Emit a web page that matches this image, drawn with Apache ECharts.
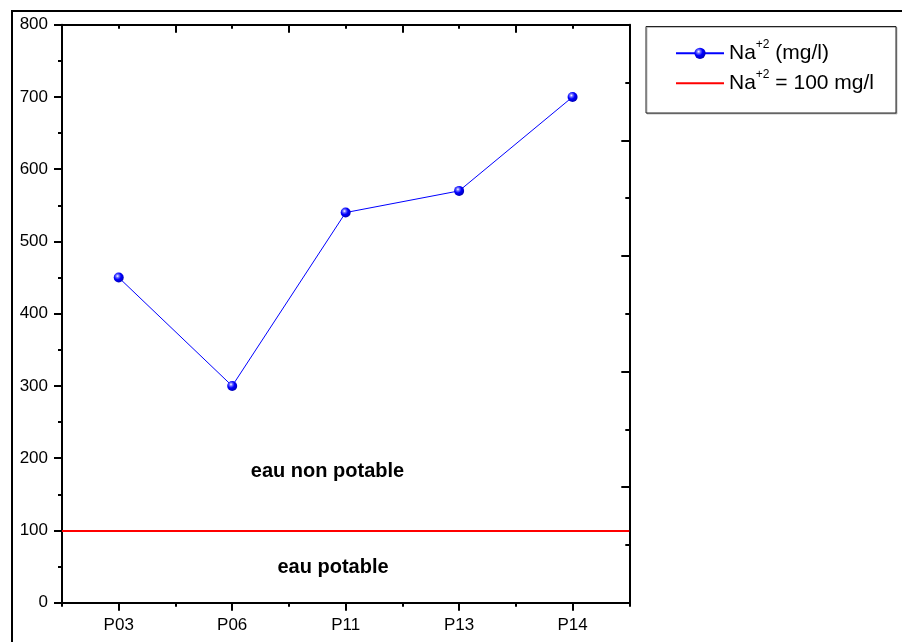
<!DOCTYPE html>
<html>
<head>
<meta charset="utf-8">
<script src="https://cdn.jsdelivr.net/npm/echarts@6/dist/echarts.min.js"></script>
<style>
html,body{margin:0;padding:0;background:#fff;}
#chart{width:902px;height:642px;}
</style>
</head>
<body>
<div id="chart"></div>
<script>
var categories = ['P03', 'P06', 'P11', 'P13', 'P14'];
var naValues = [450, 300, 540, 570, 700];
var limitValue = 100;
var yTicks = [0, 100, 200, 300, 400, 500, 600, 700, 800];
var seriesNames = ['Na+2 (mg/l)', 'Na+2 = 100 mg/l'];
var annotations = ['eau non potable', 'eau potable'];

var FONT = '"Liberation Sans", Arial, sans-serif';
var chart = echarts.init(document.getElementById('chart'), null, {renderer: 'canvas'});

var axisLineStyle = {color: '#000', width: 2};

var sphere = {
  type: 'radial', x: 0.38, y: 0.35, r: 0.7,
  colorStops: [
    {offset: 0, color: '#ffffff'},
    {offset: 0.22, color: '#7070ff'},
    {offset: 0.5, color: '#0000ff'},
    {offset: 1, color: '#0000b0'}
  ]
};

var option = {
  backgroundColor: '#ffffff',
  animation: false,
  grid: {left: 62, right: 272.7, top: 24.7, bottom: 39.3, containLabel: false},
  legend: {
    orient: 'vertical',
    left: 675,
    top: 38.3,
    padding: 0,
    itemGap: 0,
    itemWidth: 48,
    itemHeight: 14,
    data: [
      {name: seriesNames[0]},
      {name: seriesNames[1], itemStyle: {color: 'rgba(0,0,0,0)', opacity: 0}}
    ],
    formatter: function (name) {
      var rest = name.slice(4);
      return '{a|Na}{s|+2}{a|' + rest + '}';
    },
    textStyle: {
      fontFamily: FONT,
      color: '#000',
      lineHeight: 30,
      rich: {
        a: {fontSize: 21, lineHeight: 30, height: 30, fontFamily: FONT, color: '#000'},
        s: {fontSize: 12, lineHeight: 12, verticalAlign: 'top', fontFamily: FONT, color: '#000'}
      }
    }
  },
  xAxis: [
    {
      type: 'category',
      data: categories,
      position: 'bottom',
      boundaryGap: true,
      axisLine: {show: true, lineStyle: axisLineStyle},
      axisTick: {show: true, alignWithLabel: true, length: 8, interval: 0, lineStyle: axisLineStyle},
      axisLabel: {show: true, margin: 14, fontSize: 17, fontFamily: FONT, color: '#000', interval: 0},
      splitLine: {show: false}
    },
    {
      type: 'category',
      data: categories,
      position: 'bottom',
      boundaryGap: true,
      axisLine: {show: false},
      axisTick: {show: true, alignWithLabel: false, length: 4, interval: 0, lineStyle: axisLineStyle},
      axisLabel: {show: false},
      splitLine: {show: false}
    },
    {
      type: 'value',
      position: 'top',
      min: 0, max: 5, interval: 1,
      axisLine: {show: true, lineStyle: axisLineStyle},
      axisTick: {show: true, inside: true, length: 8, lineStyle: axisLineStyle},
      minorTick: {show: true, splitNumber: 2, length: 4, lineStyle: axisLineStyle},
      axisLabel: {show: false},
      splitLine: {show: false}
    }
  ],
  yAxis: [
    {
      type: 'value',
      position: 'left',
      min: yTicks[0], max: yTicks[yTicks.length - 1], interval: 100,
      axisLine: {show: true, lineStyle: axisLineStyle},
      axisTick: {show: true, inside: false, length: 8, lineStyle: axisLineStyle},
      minorTick: {show: true, splitNumber: 2, length: 4, lineStyle: axisLineStyle},
      axisLabel: {show: true, margin: 14, fontSize: 17, fontFamily: FONT, color: '#000'},
      splitLine: {show: false}
    },
    {
      type: 'value',
      position: 'right',
      min: 0, max: 5, interval: 1,
      axisLine: {show: true, lineStyle: axisLineStyle},
      axisTick: {show: true, inside: true, length: 8, lineStyle: axisLineStyle},
      minorTick: {show: true, splitNumber: 2, length: 4, lineStyle: axisLineStyle},
      axisLabel: {show: false},
      splitLine: {show: false}
    }
  ],
  series: [
    {
      name: seriesNames[0],
      type: 'line',
      xAxisIndex: 0,
      yAxisIndex: 0,
      data: naValues,
      symbol: 'circle',
      symbolSize: 10,
      showSymbol: true,
      lineStyle: {color: '#0000ff', width: 1},
      itemStyle: {color: sphere, borderWidth: 0},
      z: 5
    },
    {
      name: seriesNames[1],
      type: 'line',
      xAxisIndex: 0,
      yAxisIndex: 0,
      data: [],
      symbol: 'none',
      lineStyle: {color: '#ff0000', width: 1},
      itemStyle: {color: '#ff0000'},
      markLine: {
        silent: true,
        symbol: ['none', 'none'],
        label: {show: false},
        lineStyle: {color: '#ff0000', width: 2, type: 'solid'},
        data: [{yAxis: limitValue}]
      },
      z: 3
    }
  ],
  graphic: [
    {type: 'line', shape: {x1: 11, y1: 11, x2: 902, y2: 11}, style: {stroke: '#000', lineWidth: 2}, z: 100},
    {type: 'line', shape: {x1: 12, y1: 10, x2: 12, y2: 642}, style: {stroke: '#000', lineWidth: 2}, z: 100},
    {type: 'rect', shape: {x: 646, y: 26.5, width: 250, height: 86.5},
      style: {fill: '#fff', stroke: '#222', lineWidth: 1, shadowColor: 'rgba(0,0,0,0.25)', shadowOffsetX: 1, shadowOffsetY: 1, shadowBlur: 0}, z: -1},
    {type: 'text', x: 327.5, y: 471.7, style: {text: annotations[0], font: 'bold 20px ' + FONT, fill: '#000', textAlign: 'center', textVerticalAlign: 'middle'}, z: 50},
    {type: 'text', x: 333, y: 567.7, style: {text: annotations[1], font: 'bold 20px ' + FONT, fill: '#000', textAlign: 'center', textVerticalAlign: 'middle'}, z: 50}
  ]
};
chart.setOption(option);
</script>
</body>
</html>
